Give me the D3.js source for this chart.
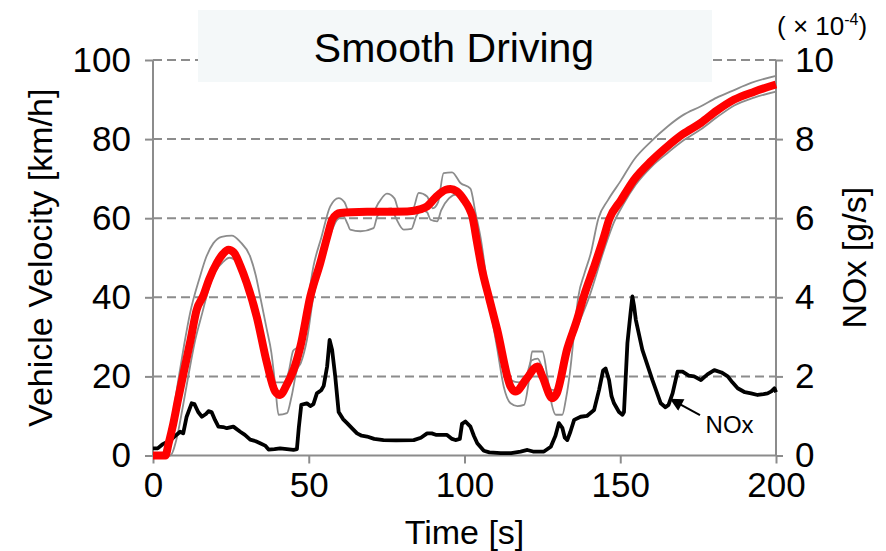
<!DOCTYPE html>
<html>
<head>
<meta charset="utf-8">
<script src="https://cdn.jsdelivr.net/npm/d3@7"></script>
<style>
  body { margin: 0; background: #fff; }
  svg text { font-family: "Liberation Sans", Arial, sans-serif; fill: #000; }
</style>
</head>
<body>
<div id="chart"></div>
<script>
// ---- data ----
var velTime  = [0, 4, 5, 6.5, 8, 9.8, 12, 14, 16.2, 18, 20.5, 22.5, 24.2, 26, 28, 30.1, 33.3, 36.6, 39.2, 40.8, 43, 45.1, 47.3, 50.5, 53.7, 56, 57.5, 59, 60.1, 68.7, 81.6, 86, 88, 91, 94, 95.5, 97.5, 99.8, 101.5, 102.5, 104, 105.5, 108, 110.5, 114.8, 116.4, 120, 123.4, 125, 128.2, 129.5, 133, 136, 138.4, 141.5, 144.8, 146.4, 150.2, 154.4, 160, 165.2, 170, 175.9, 181, 186.6, 193, 200];
var velValue = [0, 0, 3, 8, 14, 20.8, 29, 36.8, 40.5, 44.5, 48.7, 51, 52, 51.3, 48, 43.6, 35.1, 23.3, 16.2, 15.3, 18, 21.6, 27.5, 40.2, 48.7, 55.5, 59.6, 61, 61.3, 61.6, 61.7, 62.3, 63, 65.5, 67.2, 67.4, 66.8, 64.7, 62.5, 60.5, 54, 47.5, 39.5, 31.8, 17.4, 16.2, 19.5, 22.5, 20, 14.5, 15.5, 27, 34, 40.5, 47.5, 55.4, 59.6, 64.5, 69.7, 74.5, 78.2, 81.2, 84.1, 87.2, 90, 92, 93.8];

// tolerance band, two thin grey traces
var bandATime  = [0, 3, 5, 6.5, 8.1, 10, 11.9, 15, 17, 19.4, 22, 25.3, 28, 31.2, 33, 34.4, 36.5, 38, 39.2, 40.3, 43, 44.5, 46.2, 47.5, 49.4, 51.5, 53, 55, 57, 59, 61, 62.5, 63.3, 66.6, 70.8, 72, 74, 76.5, 78, 80.5, 83, 84.5, 86.5, 88, 89.1, 91.2, 92.5, 95, 97.5, 99.5, 101.5, 103.5, 106, 108.5, 110.5, 113, 115, 117.5, 120, 121.5, 123.5, 125, 127, 129, 131, 133, 136, 140, 145, 148, 151, 155, 160, 165.2, 170, 175.9, 181, 186.6, 193, 200];
var bandAValue = [0, 0.5, 5, 11, 19, 28, 36, 45, 50, 53.7, 55.3, 55.6, 54, 50.3, 45.5, 40.2, 32, 26, 18, 10.3, 10.7, 15, 21.6, 23.5, 29.2, 40.2, 45, 51, 56, 59.5, 60.5, 58.5, 57.1, 56.7, 57.5, 60.5, 62, 62.5, 60, 57.1, 57.3, 60.5, 62, 61.5, 59.6, 59.2, 62, 65, 66, 65, 62.5, 55, 46.5, 39.5, 33, 24, 19, 18.5, 20.5, 24, 24.5, 22, 17, 16.5, 19, 25, 32, 40, 52.5, 59, 63.5, 68.5, 73, 76.5, 79.5, 82.5, 85.5, 88.5, 90.5, 92];
var bandBTime  = [0, 5.5, 7.5, 9.5, 11.5, 13.5, 15.8, 18, 20, 22.6, 24.5, 27, 28, 30, 33, 36, 38, 40, 42, 43.5, 45, 46.5, 48, 49.5, 51.5, 54, 56.9, 59.6, 61.5, 63, 70.5, 72.5, 75.1, 77.5, 79, 83.5, 85.3, 88, 89.8, 91.5, 93.3, 96, 98.7, 101.9, 103.5, 105.1, 108.4, 110.5, 112.6, 114.8, 117, 119.1, 120.5, 121.7, 125, 126.6, 128, 129.3, 131.4, 132.5, 134, 135.2, 136.5, 138.5, 140.5, 143, 146, 150.2, 154.4, 160, 165.2, 170, 175.9, 181, 186, 192, 200];
var bandBValue = [0, 0, 4, 12, 20.8, 29, 36, 42.5, 46.5, 49, 50, 49, 48, 43, 35, 24.5, 18.5, 18.5, 18.5, 21, 26.5, 27.5, 31, 38, 47.8, 55, 63, 65.1, 64, 61.5, 61.5, 64, 66.2, 65, 62, 62.5, 66.4, 65.5, 62.5, 64, 71.4, 71.6, 68.9, 67.5, 61.5, 55.4, 36.8, 27, 17.4, 13.2, 12.5, 12.8, 18, 26.3, 26.3, 20, 13, 10.3, 10.3, 14, 22, 31, 40, 46, 51, 60, 64.5, 69.5, 74.8, 79.5, 83.2, 86, 88.3, 90.5, 92.2, 94.2, 96];

// NOx, units of 1e-4 g/s
var noxTime  = [0, 1.5, 3, 5.5, 7.5, 8.7, 9.7, 10.8, 12.4, 13.3, 14.5, 15.7, 17, 17.8, 18.8, 19.9, 21, 22.5, 23.7, 25.8, 28, 29.5, 31.2, 33, 34.4, 36, 37.1, 39, 40.8, 43, 45.1, 46.2, 46.8, 47.6, 49.4, 50.5, 51.5, 52.6, 54, 54.8, 55.9, 56.7, 57.5, 58.5, 59.6, 61, 62.3, 64, 65.5, 67, 68.7, 71, 74, 78, 83.7, 86, 88, 89.5, 91, 94.4, 96, 97.1, 98.5, 99.2, 100.3, 101.9, 103, 104.1, 106.2, 108, 111.6, 115, 118, 120.2, 122, 125.5, 127.7, 129.2, 130.3, 131.4, 132.2, 133, 134, 135.2, 137.3, 139.3, 141.6, 143.2, 144.5, 145.3, 146.4, 147.2, 148, 149.6, 150.7, 151.2, 152.3, 153.3, 153.9, 154.4, 155, 157.1, 160.3, 163, 164.5, 165.5, 166.8, 168.4, 170, 172, 173.7, 175.9, 178, 180.2, 182.5, 184.5, 186, 187.7, 190, 192, 194.1, 196, 197.3, 198.5, 199.5, 200];
var noxValue = [0.18, 0.18, 0.28, 0.38, 0.52, 0.6, 0.56, 0.98, 1.32, 1.3, 1.1, 0.98, 1.05, 1.12, 1.1, 0.9, 0.73, 0.72, 0.69, 0.73, 0.6, 0.52, 0.4, 0.36, 0.31, 0.25, 0.15, 0.16, 0.18, 0.16, 0.14, 0.16, 0.7, 1.28, 1.32, 1.25, 1.3, 1.57, 1.65, 1.76, 2.25, 2.92, 2.67, 2.0, 1.1, 0.92, 0.82, 0.68, 0.56, 0.5, 0.48, 0.42, 0.39, 0.38, 0.39, 0.45, 0.56, 0.56, 0.52, 0.52, 0.42, 0.39, 0.42, 0.8, 0.86, 0.73, 0.5, 0.31, 0.12, 0.08, 0.06, 0.06, 0.1, 0.14, 0.1, 0.1, 0.22, 0.5, 0.82, 0.7, 0.45, 0.39, 0.6, 0.9, 0.98, 1.0, 1.15, 1.66, 2.15, 2.2, 1.91, 1.5, 1.32, 1.1, 1.03, 1.1, 2.84, 3.6, 4.02, 3.8, 3.43, 2.67, 1.91, 1.32, 1.22, 1.28, 1.57, 2.12, 2.12, 2.02, 2.0, 1.91, 2.05, 2.16, 2.1, 2.0, 1.85, 1.7, 1.6, 1.57, 1.53, 1.55, 1.57, 1.62, 1.7, 1.6];

var xTicks  = [0, 50, 100, 150, 200];
var yTicks  = [0, 20, 40, 60, 80, 100];
var y2Ticks = [0, 2, 4, 6, 8, 10];

// ---- layout ----
var margin = {left: 153, top: 60, right: 110, bottom: 95.5},
    width = 886 - margin.left - margin.right,
    height = 551 - margin.top - margin.bottom;

var axisGrey = "#8c8c8c";

var svg = d3.select("#chart").append("svg")
    .attr("width", 886)
    .attr("height", 551);

var x = d3.scaleLinear().domain([0, 200]).range([0, width]),
    y = d3.scaleLinear().domain([0, 100]).range([height, 0]),
    y2 = d3.scaleLinear().domain([0, 10]).range([height, 0]);

var g = svg.append("g")
    .attr("transform", "translate(" + margin.left + "," + margin.top + ")");

// dashed grid
g.selectAll(".grid")
    .data(yTicks.filter(function(d) { return d > 0; }))
  .enter().append("line")
    .attr("x1", 0).attr("x2", width)
    .attr("y1", function(d) { return y(d); })
    .attr("y2", function(d) { return y(d); })
    .attr("stroke", axisGrey)
    .attr("stroke-width", 2)
    .attr("stroke-dasharray", "9,5");

// title box sits over the top grid line
svg.append("rect")
    .attr("x", 198).attr("y", 10)
    .attr("width", 514).attr("height", 72)
    .attr("fill", "#f4f8f9");
svg.append("text")
    .attr("x", 454).attr("y", 62)
    .attr("text-anchor", "middle")
    .style("font-size", "41px")
    .text("Smooth Driving");

// axes
function styleAxis(sel) {
  sel.select(".domain").remove();
  sel.selectAll(".tick line").attr("stroke", axisGrey).attr("stroke-width", 2);
  sel.selectAll(".tick text").style("font-size", "35px").attr("fill", "#000");
}

g.append("g")
    .call(d3.axisLeft(y).tickValues(yTicks).tickSize(8).tickPadding(14))
    .call(styleAxis);

g.append("g")
    .attr("transform", "translate(" + width + ",0)")
    .call(d3.axisRight(y2).tickValues(y2Ticks).tickSize(7).tickPadding(12))
    .call(styleAxis);

g.append("g")
    .attr("transform", "translate(0," + height + ")")
    .call(d3.axisBottom(x).tickValues(xTicks).tickSize(8).tickPadding(9))
    .call(styleAxis);

// axis frame lines (left, right, bottom)
g.append("line").attr("x1", 0).attr("x2", 0).attr("y1", 0).attr("y2", height)
    .attr("stroke", axisGrey).attr("stroke-width", 2);
g.append("line").attr("x1", width).attr("x2", width).attr("y1", 0).attr("y2", height)
    .attr("stroke", axisGrey).attr("stroke-width", 2);
g.append("line").attr("x1", 0).attr("x2", width).attr("y1", height).attr("y2", height)
    .attr("stroke", axisGrey).attr("stroke-width", 2);

// series
function series(times, vals) {
  return times.map(function(t, i) { return [t, vals[i]]; });
}

var lineV = d3.line()
    .x(function(d) { return x(d[0]); })
    .y(function(d) { return y(d[1]); })
    .curve(d3.curveMonotoneX);

var lineN = d3.line()
    .x(function(d) { return x(d[0]); })
    .y(function(d) { return y2(d[1]); });

g.append("path")
    .datum(series(bandATime, bandAValue))
    .attr("d", lineV)
    .attr("fill", "none").attr("stroke", "#8c8c8c").attr("stroke-width", 1.8);

g.append("path")
    .datum(series(bandBTime, bandBValue))
    .attr("d", lineV)
    .attr("fill", "none").attr("stroke", "#8c8c8c").attr("stroke-width", 1.8);

g.append("path")
    .datum(series(noxTime, noxValue))
    .attr("d", lineN)
    .attr("fill", "none").attr("stroke", "#000").attr("stroke-width", 3.8)
    .attr("stroke-linejoin", "round");

g.append("path")
    .datum(series(velTime, velValue))
    .attr("d", lineV)
    .attr("fill", "none").attr("stroke", "#ff0000").attr("stroke-width", 8)
    .attr("stroke-linejoin", "round");

// NOx annotation: arrow from the label to the curve
svg.append("defs").append("marker")
    .attr("id", "arrow")
    .attr("viewBox", "0 0 10 10")
    .attr("refX", 9).attr("refY", 5)
    .attr("markerUnits", "userSpaceOnUse")
    .attr("markerWidth", 15).attr("markerHeight", 13)
    .attr("orient", "auto")
  .append("path")
    .attr("d", "M0,0L10,5L0,10z")
    .attr("fill", "#000");

g.append("line")
    .attr("x1", x(175.6)).attr("y1", y2(1.02))
    .attr("x2", x(166.3)).attr("y2", y2(1.42))
    .attr("stroke", "#000").attr("stroke-width", 2)
    .attr("marker-end", "url(#arrow)");
g.append("text")
    .attr("x", x(177.4)).attr("y", y2(0.57))
    .style("font-size", "24px")
    .text("NOx");

// axis titles
svg.append("text")
    .attr("transform", "translate(52," + (margin.top + height / 2) + ") rotate(-90)")
    .attr("text-anchor", "middle")
    .style("font-size", "34px")
    .text("Vehicle Velocity [km/h]");

svg.append("text")
    .attr("transform", "translate(866," + (margin.top + height / 2) + ") rotate(-90)")
    .attr("text-anchor", "middle")
    .style("font-size", "34px")
    .text("NOx [g/s]");

svg.append("text")
    .attr("x", margin.left + width / 2).attr("y", 544)
    .attr("text-anchor", "middle")
    .style("font-size", "34px")
    .text("Time [s]");

// exponent note above right axis
var ex = svg.append("text")
    .attr("x", 777).attr("y", 35)
    .style("font-size", "26px");
ex.append("tspan").text("( \u00d7 10");
ex.append("tspan").attr("dy", -10).style("font-size", "16px").text("-4");
ex.append("tspan").attr("dy", 10).text(")");
</script>
</body>
</html>
